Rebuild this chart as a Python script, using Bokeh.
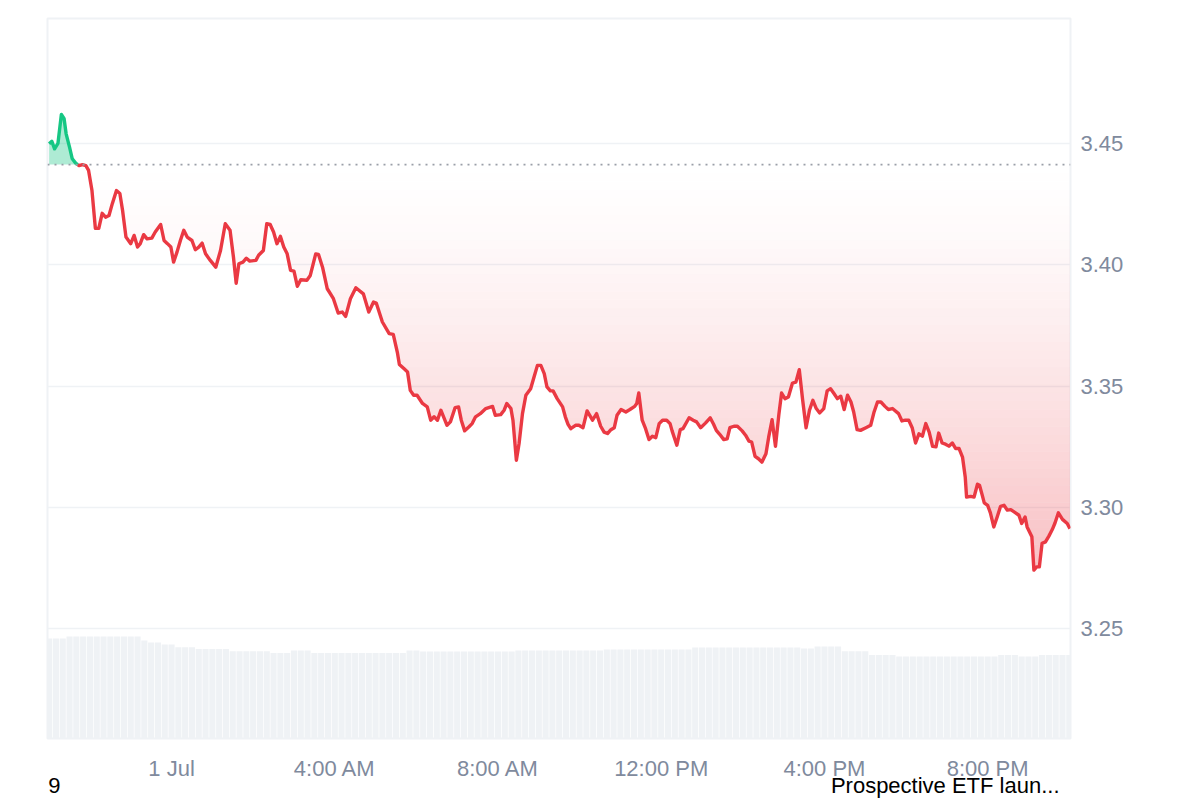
import numpy as np
from bokeh.plotting import figure
from bokeh.models import (Range1d, FixedTicker, PrintfTickFormatter, Span, LinearAxis,
                          CustomJSTickFormatter)
from bokeh.embed import file_html
from bokeh.resources import INLINE

# ---------------- data ----------------
# time in minutes relative to 1 Jul 00:00
t_min = [-180, -176, -172, -167, -162, -158, -155, -150, -146, -141,
         -136, -131, -126, -122, -117, -112, -107, -102, -97, -92,
         -87, -81, -76, -72, -67, -60, -55, -50, -46, -41,
         -36, -29, -24, -16, -11, -6, -1, 3, 8, 13,
         18, 23, 30, 35, 40, 45, 50, 57, 65, 72, 79,
         86, 91, 95, 99, 105, 110, 115, 124, 128, 135,
         140, 145, 150, 155, 160, 165, 170, 175, 180, 185,
         190, 199, 204, 212, 216, 222, 229, 238, 245, 251,
         256, 263, 271, 282, 290, 297, 301, 310, 320, 326, 332, 335,
         342, 347, 351, 356, 361, 369, 376, 381, 386, 391,
         396, 400, 405, 410, 417, 422, 426, 431, 437, 442,
         447, 454, 462, 472, 476, 484, 489, 493, 499, 502,
         507, 511, 516, 521, 528, 533, 538, 543, 548, 552,
         557, 561, 567, 575, 579, 583, 587,
         594, 599, 605, 611, 619, 625, 631, 636, 641, 646,
         651, 655, 661, 668, 674, 681, 684, 687, 692, 697,
         702, 707, 712, 717, 722, 728, 733, 736, 743, 748,
         752, 761, 767, 772, 778, 785, 792, 797, 801, 806,
         812, 817, 821, 827, 832, 839, 844,
         849, 853, 858, 863, 868, 874, 878, 883, 888, 893,
         897, 902, 907, 913, 918, 923, 928, 933, 938, 943,
         948, 953, 959, 964, 969, 974, 979, 984, 989, 994,
         999, 1003, 1008, 1013, 1021, 1028, 1033, 1038, 1043, 1049,
         1054, 1060, 1069, 1074, 1079, 1084, 1089,
         1094, 1099, 1104, 1109, 1114, 1119, 1124, 1128, 1133, 1138,
         1143, 1148, 1153, 1158, 1163, 1167, 1169, 1175, 1180, 1185,
         1188, 1192, 1195, 1200, 1204, 1209, 1214, 1219, 1224, 1229,
         1234, 1241, 1246, 1250, 1255, 1258, 1265, 1268, 1272, 1276,
         1280, 1285, 1290, 1295, 1299, 1304, 1310, 1317, 1321]

price = [3.4499, 3.4509, 3.4478, 3.4501, 3.4620, 3.4602, 3.4540, 3.4485, 3.4437, 3.4419,
         3.4409, 3.4413, 3.4409, 3.4389, 3.4306, 3.4150, 3.4150, 3.4212, 3.4196, 3.4203,
         3.4253, 3.4306, 3.4294, 3.4224, 3.4114, 3.4087, 3.4121, 3.4073, 3.4087, 3.4124,
         3.4107, 3.4110, 3.4135, 3.4166, 3.4100, 3.4087, 3.4073, 3.4011, 3.4052, 3.4100,
         3.4142, 3.4114, 3.4100, 3.4062, 3.4073, 3.4089, 3.4045, 3.4018, 3.3990, 3.4059, 3.4169,
         3.4142, 3.4032, 3.3924, 3.4004, 3.4011, 3.4027, 3.4015, 3.4018, 3.4039, 3.4059,
         3.4169, 3.4166, 3.4135, 3.4087, 3.4117, 3.4073, 3.4045, 3.3977, 3.3974, 3.3911,
         3.3938, 3.3936, 3.3956, 3.4045, 3.4043, 3.3990, 3.3901, 3.3860, 3.3801, 3.3805,
         3.3787, 3.3860, 3.3905, 3.3880, 3.3805, 3.3846, 3.3842, 3.3764, 3.3716, 3.3713, 3.3639, 3.3589,
         3.3571, 3.3558, 3.3482, 3.3462, 3.3462, 3.3428, 3.3414, 3.3359, 3.3373, 3.3359,
         3.3400, 3.3373, 3.3338, 3.3352, 3.3411, 3.3414, 3.3359, 3.3315, 3.3331, 3.3345,
         3.3373, 3.3386, 3.3407, 3.3416, 3.3379, 3.3382, 3.3400, 3.3428, 3.3407, 3.3359,
         3.3194, 3.3263, 3.3386, 3.3462, 3.3489, 3.3537, 3.3585, 3.3585, 3.3551, 3.3496,
         3.3480, 3.3480, 3.3448, 3.3414, 3.3373, 3.3342, 3.3324,
         3.3338, 3.3338, 3.3328, 3.3397, 3.3359, 3.3386, 3.3334, 3.3310, 3.3304, 3.3320,
         3.3328, 3.3379, 3.3403, 3.3393, 3.3403, 3.3416, 3.3428, 3.3471, 3.3359, 3.3324,
         3.3279, 3.3293, 3.3287, 3.3345, 3.3359, 3.3359, 3.3345, 3.3315, 3.3256, 3.3320,
         3.3324, 3.3369, 3.3359, 3.3352, 3.3328, 3.3347, 3.3369, 3.3342, 3.3317, 3.3301,
         3.3279, 3.3282, 3.3328, 3.3334, 3.3334, 3.3315, 3.3297,
         3.3273, 3.3269, 3.3210, 3.3200, 3.3186, 3.3221, 3.3289, 3.3361, 3.3251, 3.3383,
         3.3471, 3.3448, 3.3455, 3.3512, 3.3516, 3.3567, 3.3441, 3.3328, 3.3400, 3.3441,
         3.3407, 3.3389, 3.3407, 3.3480, 3.3489, 3.3469, 3.3448, 3.3458, 3.3403, 3.3462,
         3.3434, 3.3393, 3.3320, 3.3317, 3.3328, 3.3338, 3.3393, 3.3434, 3.3434, 3.3416,
         3.3403, 3.3407, 3.3386, 3.3356, 3.3359, 3.3359, 3.3328,
         3.3265, 3.3303, 3.3293, 3.3345, 3.3310, 3.3251, 3.3249, 3.3306, 3.3265, 3.3260,
         3.3252, 3.3265, 3.3242, 3.3242, 3.3207, 3.3125, 3.3042, 3.3045, 3.3042, 3.3095,
         3.3091, 3.3050, 3.3018, 3.3008, 3.2977, 3.2919, 3.2960, 3.3004, 3.3008, 3.2988,
         3.2990, 3.2977, 3.2967, 3.2933, 3.2960, 3.2919, 3.2878, 3.2741, 3.2754, 3.2754,
         3.2851, 3.2857, 3.2881, 3.2908, 3.2935, 3.2977, 3.2950, 3.2933, 3.2912]

baseline_price = 3.4413

# volume (millions), one bar per 10 minutes starting at minute -180
vol_start_min = -180
vol_step_min = 10
volume = [50.0, 50.0, 50.0,
          51.0, 51.0, 51.0, 51.0, 51.0, 51.0, 51.0, 51.0, 51.0, 51.0, 51.0,
          49.0, 48.0, 48.0, 47.0, 47.0,
          45.6, 45.6, 45.6,
          44.8, 44.8, 44.8, 44.8, 44.8,
          43.6, 43.6, 43.6, 43.6, 43.6, 43.6,
          42.7, 42.7, 42.7,
          44.0, 44.0, 44.0,
          42.8, 42.8, 42.8, 42.8, 42.8, 42.8, 42.8, 42.8, 42.8, 42.8, 42.8, 42.8, 42.8, 42.8,
          44.0, 44.0,
          43.5, 43.5, 43.5, 43.5, 43.5, 43.5, 43.5, 43.5, 43.5, 43.5, 43.5, 43.5, 43.5, 43.5,
          44.0, 44.0, 44.0, 44.0, 44.0, 44.0, 44.0, 44.0, 44.0, 44.0, 44.0, 44.0, 44.0,
          44.5, 44.5, 44.5, 44.5, 44.5, 44.5, 44.5, 44.5, 44.5, 44.5, 44.5, 44.5, 44.5,
          45.5, 45.5, 45.5, 45.5, 45.5, 45.5, 45.5, 45.5, 45.5, 45.5, 45.5, 45.5, 45.5, 45.5, 45.5, 45.5,
          45.0, 45.0,
          46.0, 46.0, 46.0, 46.0,
          43.6, 43.6, 43.6, 43.6,
          41.8, 41.8, 41.8, 41.8,
          41.0, 41.0, 41.0, 41.0, 41.0, 41.0, 41.0, 41.0, 41.0, 41.0, 41.0, 41.0, 41.0, 41.0, 41.0,
          41.8, 41.8, 41.8,
          41.0, 41.0, 41.0,
          41.8, 41.8, 41.8, 41.8, 41.8]

x_ticks = [0, 4, 8, 12, 16, 20]          # hours after 1 Jul 00:00
x_tick_labels = ["1 Jul", "4:00 AM", "8:00 AM", "12:00 PM", "4:00 PM", "8:00 PM"]
y_ticks = [3.25, 3.30, 3.35, 3.40, 3.45]

# page notes under the chart, placed at these hours on the time axis
note_hours = [-2.87, 18.96]
note_texts = ["9", "Prospective ETF laun..."]

# ---------------- styling ----------------
RED = "#ea3943"
GREEN = "#16c784"
GRAY = "#808a9d"
GRID = "#eff2f5"
FONT = "Liberation Sans"

# ---------------- derived series ----------------
t = np.array(t_min, dtype=float) / 60.0
pr = np.array(price, dtype=float)
b = baseline_price

xs = [t[0]]
ys = [pr[0]]
for i in range(1, len(t)):
    d0 = pr[i - 1] - b
    d1 = pr[i] - b
    if d0 * d1 < 0:
        f = d0 / (d0 - d1)
        xs.append(t[i - 1] + f * (t[i] - t[i - 1]))
        ys.append(b)
    xs.append(t[i])
    ys.append(pr[i])
xs = np.array(xs)
ys = np.array(ys)

above = np.maximum(ys, b)
green_y = np.where(ys >= b, ys, np.nan)
red_y = np.where(ys <= b, ys, np.nan)

# dense version for the gradient bands
xf = np.union1d(xs, np.linspace(xs[0], xs[-1], 4000))
yf = np.interp(xf, xs, ys)
below_f = np.minimum(yf, b)

vol_x = (vol_start_min + vol_step_min * np.arange(len(volume))) / 60.0

# ---------------- figure ----------------
p = figure(width=1200, height=800,
           x_range=Range1d(-3.04, 22.03), y_range=Range1d(3.20464, 3.50155),
           output_backend="svg", toolbar_location=None, y_axis_location="right",
           min_border_left=47, min_border_right=130, min_border_top=18, min_border_bottom=62,
           background_fill_color="white", border_fill_color="white")
p.extra_y_ranges = {"vol": Range1d(0, 360)}

p.vbar(x=vol_x, top=volume, bottom=0, width=vol_step_min * 0.9 / 60.0,
       y_range_name="vol", fill_color=GRID, line_color=None)

# red gradient area (baseline down to the line)
lo = float(pr.min())
n_bands = 48
edges = np.linspace(b, lo, n_bands + 1)
for k in range(n_bands):
    top_e = edges[k]
    bot_e = edges[k + 1]
    frac = (k + 0.5) / n_bands
    alpha = 0.32 * frac ** 1.4
    y1 = np.clip(below_f, bot_e, top_e)
    p.varea(x=xf, y1=y1, y2=np.full_like(xf, top_e),
            fill_color=RED, fill_alpha=alpha)

# green area
p.varea(x=xs, y1=np.full_like(xs, b), y2=above, fill_color=GREEN, fill_alpha=0.35)

p.add_layout(Span(location=b, dimension="width", line_color="#9a9fa8",
                  line_width=1.6, line_dash="2 5"))

p.line(xs, red_y, line_color=RED, line_width=3.4, line_join="round")
p.line(xs, green_y, line_color=GREEN, line_width=3.4, line_join="round")

# axes
xa = p.xaxis[0]
xa.ticker = FixedTicker(ticks=x_ticks)
xa.major_label_overrides = dict(zip(x_ticks, x_tick_labels))
xa.axis_line_color = None
xa.major_tick_line_color = None
xa.minor_tick_line_color = None
xa.major_tick_out = 0
xa.major_tick_in = 0
xa.minor_tick_out = 0
xa.major_label_text_font = FONT
xa.major_label_text_font_size = "22px"
xa.major_label_text_color = GRAY
xa.major_label_standoff = 17

# second row below the time axis carrying the page notes
na = LinearAxis(ticker=FixedTicker(ticks=note_hours),
                formatter=CustomJSTickFormatter(args=dict(labels=note_texts),
                                                code="return labels[index];"))
na.axis_line_color = None
na.major_tick_line_color = None
na.minor_tick_line_color = None
na.major_tick_out = 0
na.major_tick_in = 0
na.minor_tick_out = 0
na.major_label_text_font = FONT
na.major_label_text_font_size = "22px"
na.major_label_text_color = "black"
na.major_label_standoff = -11
p.add_layout(na, "below")

ya = p.yaxis[0]
ya.ticker = FixedTicker(ticks=y_ticks)
ya.formatter = PrintfTickFormatter(format="%.2f")
ya.axis_line_color = None
ya.major_tick_line_color = None
ya.minor_tick_line_color = None
ya.major_tick_out = 0
ya.major_tick_in = 0
ya.major_label_text_font = FONT
ya.major_label_text_font_size = "22px"
ya.major_label_text_color = GRAY
ya.major_label_standoff = 10

p.xgrid.visible = False
p.ygrid.grid_line_color = GRID
p.ygrid.grid_line_width = 1.5
p.outline_line_color = GRID
p.outline_line_width = 2

open("out.html", "w").write(file_html(p, INLINE))
